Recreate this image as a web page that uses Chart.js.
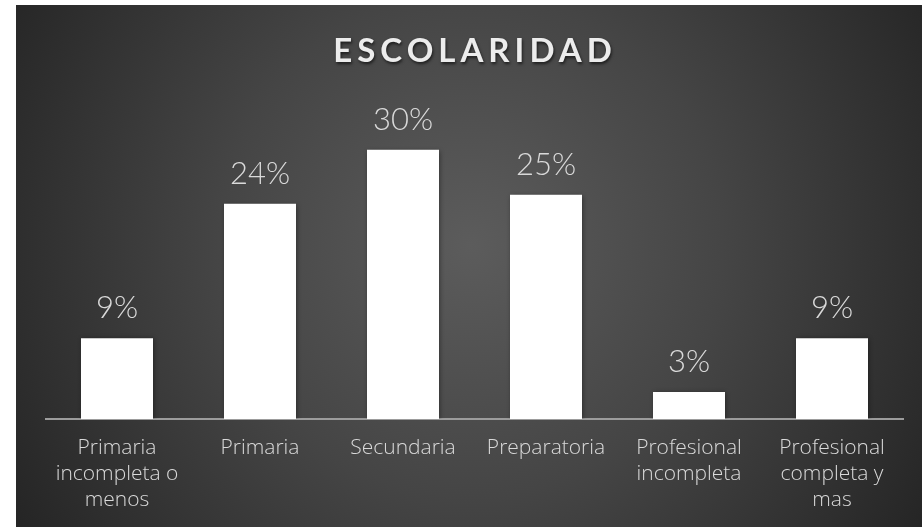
<!DOCTYPE html>
<html>
<head>
<meta charset="utf-8">
<script src="https://cdn.jsdelivr.net/npm/chart.js@4.4.0/dist/chart.umd.min.js"></script>
<style>
  html, body { margin: 0; padding: 0; background: #ffffff; width: 922px; height: 527px; overflow: hidden; }
  #wrap { position: absolute; left: 16px; top: 5px; width: 906px; height: 522px; }
</style>
</head>
<body>
<div id="wrap"><canvas id="c" width="906" height="522"></canvas></div>
<script>
const chartTitle = 'ESCOLARIDAD';
const categories = [
  ['Primaria', 'incompleta o', 'menos'],
  'Primaria',
  'Secundaria',
  'Preparatoria',
  ['Profesional', 'incompleta'],
  ['Profesional', 'completa y', 'mas']
];
const values = [9, 24, 30, 25, 3, 9];
const yMax = 35;

const FONT = 'Lato, "Open Sans", sans-serif';
const TICK_FONT = '"Open Sans", Lato, sans-serif';

const bgPlugin = {
  id: 'bg',
  beforeDraw(chart) {
    const ctx = chart.ctx;
    const w = chart.width, h = chart.height;
    ctx.save();
    const g = ctx.createRadialGradient(455, 240, 0, 455, 240, 560);
    g.addColorStop(0, '#5c5c5c');
    g.addColorStop(0.45, '#454545');
    g.addColorStop(1, '#222222');
    ctx.fillStyle = g;
    ctx.fillRect(0, 0, w, h);
    ctx.restore();
  }
};

const titlePlugin = {
  id: 'ttl',
  afterDraw(chart) {
    const ctx = chart.ctx;
    ctx.save();
    ctx.font = 'bold 33px ' + FONT;
    ctx.letterSpacing = '5px';
    ctx.textAlign = 'center';
    ctx.textBaseline = 'middle';
    ctx.fillStyle = '#ececec';
    ctx.shadowColor = 'rgba(0,0,0,0.6)';
    ctx.shadowBlur = 3;
    ctx.shadowOffsetX = 1;
    ctx.shadowOffsetY = 2;
    ctx.fillText(chartTitle, 459, 46);
    ctx.restore();
  }
};

const shadowPlugin = {
  id: 'barShadow',
  beforeDatasetDraw(chart) {
    const ctx = chart.ctx;
    ctx.save();
    ctx.shadowColor = 'rgba(0,0,0,0.45)';
    ctx.shadowBlur = 5;
    ctx.shadowOffsetX = 1;
    ctx.shadowOffsetY = 1;
  },
  afterDatasetDraw(chart) {
    chart.ctx.restore();
  }
};

const labelPlugin = {
  id: 'vals',
  afterDatasetsDraw(chart) {
    const ctx = chart.ctx;
    const meta = chart.getDatasetMeta(0);
    ctx.save();
    ctx.font = '300 31px ' + FONT;
    ctx.textAlign = 'center';
    ctx.textBaseline = 'middle';
    ctx.fillStyle = '#d9d9d9';
    meta.data.forEach((bar, i) => {
      ctx.fillText(values[i] + '%', bar.x, bar.y - 30);
    });
    ctx.restore();
  }
};

new Chart(document.getElementById('c'), {
  type: 'bar',
  data: {
    labels: categories,
    datasets: [{
      data: values,
      backgroundColor: '#ffffff',
      borderWidth: 0,
      barPercentage: 0.5035,
      categoryPercentage: 1
    }]
  },
  options: {
    responsive: false,
    animation: false,
    layout: { padding: { left: 29.5, right: 18.5, top: 100, bottom: 0 } },
    plugins: { legend: { display: false }, tooltip: { enabled: false }, title: { display: false } },
    scales: {
      x: {
        grid: { display: false, drawTicks: false },
        border: { display: true, color: '#9c9c9c', width: 2 },
        ticks: {
          color: '#d9d9d9',
          font: { family: TICK_FONT, size: 21, weight: 300, lineHeight: 1.24 },
          padding: 16,
          maxRotation: 0,
          autoSkip: false
        },
        afterFit(scale) { scale.height = 108; }
      },
      y: {
        display: false,
        min: 0,
        max: yMax,
        grid: { display: false }
      }
    }
  },
  plugins: [bgPlugin, shadowPlugin, labelPlugin, titlePlugin]
});
</script>
</body>
</html>
